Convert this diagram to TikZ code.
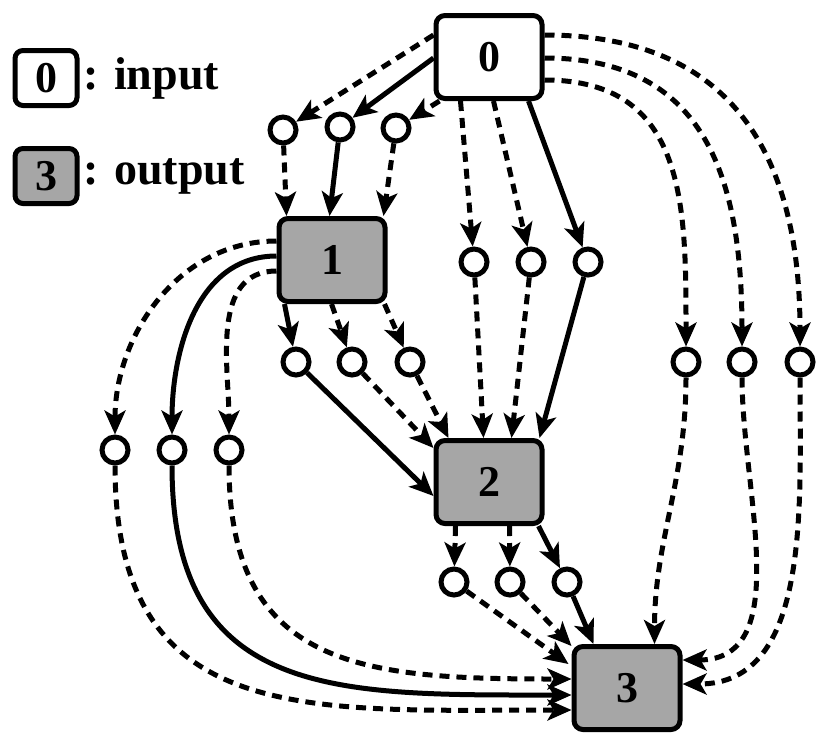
\documentclass[tikz,border=0pt]{standalone}
\usepackage{fontspec}
\setmainfont{Liberation Serif}
\usetikzlibrary{arrows.meta,calc}
\tikzset{
  blk/.style={draw,line width=5pt,rounded corners=9pt,minimum width=106pt,minimum height=83pt,font=\fontsize{44}{48}\selectfont\bfseries},
  inbox/.style={blk,fill=white},
  outbox/.style={blk,fill=black!35},
  legbox/.style={draw,line width=5pt,rounded corners=8pt,minimum width=62pt,minimum height=55pt,font=\fontsize{44}{48}\selectfont\bfseries},
  op/.style={circle,draw,line width=5pt,fill=white,minimum size=26pt,inner sep=0pt},
  ar/.style={line width=5pt,-{Stealth[length=24pt,width=21pt,inset=6pt]}},
  da/.style={ar,dash pattern=on 10pt off 7pt},
}
\begin{document}
\begin{tikzpicture}[x=1pt,y=-1pt]
\useasboundingbox (0,0) rectangle (829,745);

% legend
\node[legbox,fill=white] (l0) at (46,78) {0};
\node[anchor=west,font=\fontsize{46}{50}\selectfont\bfseries] at (80,78) {: input};
\node[legbox,fill=black!35] (l3) at (46,176) {3};
\node[anchor=west,font=\fontsize{46}{50}\selectfont\bfseries] at (80,176) {: output};

% blocks
\node[inbox] (n0) at (489,57) {0};
\node[outbox] (n1) at (332,260) {1};
\node[outbox] (n2) at (489,482) {2};
\node[outbox] (n3) at (627,688) {3};

% ops
\foreach \n/\x/\y in {a1/283/130,a2/340/127,a3/396/128,
  b1/474/262,b2/531/262,b3/588/262,
  c1/686/362,c2/742/362,c3/800/362,
  d1/296/362,d2/352/362,d3/410/362,
  e1/115/450,e2/172/450,e3/229/450,
  f1/454/582,f2/510/582,f3/567/582}
  \node[op] (\n) at (\x,\y) {};

% 0 -> 1
\draw[da] ($(n0.north west)+(0,22)$) -- (a1);
\draw[ar] ($(n0.north west)+(0,45)$) -- (a2);
\draw[da] ($(n0.south west)+(6,0)$) -- (a3);
\draw[da] (a1) -- ($(n1.north west)+(10,0)$);
\draw[ar] (a2) -- ($(n1.north west)+(53,0)$);
\draw[da] (a3) -- ($(n1.north east)+(-4,0)$);

% 0 -> 2
\draw[da] ($(n0.south west)+(27,0)$) -- (b1);
\draw[da] ($(n0.south west)+(60,0)$) -- (b2);
\draw[ar] ($(n0.south west)+(95,0)$) -- (b3);
\draw[da] (b1) -- ($(n2.north west)+(50,0)$);
\draw[da] (b2) -- ($(n2.north west)+(78,0)$);
\draw[ar] (b3) -- ($(n2.north west)+(106,0)$);

% 0 -> 3
\draw[da] ($(n0.north east)+(0,22)$) to[out=0,in=90,looseness=1.2] (c3);
\draw[da] ($(n0.north east)+(0,45)$) to[out=0,in=90,looseness=1.2] (c2);
\draw[da] ($(n0.north east)+(0,67)$) to[out=0,in=90,looseness=1.2] (c1);
\draw[da] (c1) to[out=-90,in=90] ($(n3.north west)+(83,0)$);
\draw[da] (c2) to[out=-90,in=0] ($(n3.north east)+(0,16)$);
\draw[da] (c3) to[out=-90,in=0] ($(n3.north east)+(0,40)$);

% 1 -> 3
\draw[da] ($(n1.north west)+(0,25)$) to[out=180,in=90] (e1);
\draw[ar] ($(n1.north west)+(0,40)$) to[out=180,in=90] (e2);
\draw[da] ($(n1.north west)+(0,55)$) to[out=180,in=90] (e3);
\draw[da] (e1) to[out=-90,in=180,looseness=1.3] ($(n3.north west)+(0,66)$);
\draw[ar] (e2) to[out=-90,in=180,looseness=1.3] ($(n3.north west)+(0,51)$);
\draw[da] (e3) to[out=-90,in=180,looseness=1.3] ($(n3.north west)+(0,35)$);

% 1 -> 2
\draw[ar] ($(n1.south west)+(8,0)$) -- (d1);
\draw[da] ($(n1.south west)+(55,0)$) -- (d2);
\draw[da] ($(n1.south east)+(-3,0)$) -- (d3);
\draw[ar] (d1) -- ($(n2.south west)+(0,-30)$);
\draw[da] (d2) -- ($(n2.north west)+(0,10)$);
\draw[da] (d3) -- ($(n2.north west)+(15,0)$);

% 2 -> 3
\draw[da] ($(n2.south west)+(22,0)$) -- (f1);
\draw[da] ($(n2.south west)+(76,0)$) -- (f2);
\draw[ar] ($(n2.south east)+(-6,0)$) -- (f3);
\draw[da] (f1) -- ($(n3.north west)+(-3,20)$);
\draw[da] (f2) -- ($(n3.north west)+(0,2)$);
\draw[ar] (f3) -- ($(n3.north west)+(22,0)$);
\end{tikzpicture}
\end{document}
